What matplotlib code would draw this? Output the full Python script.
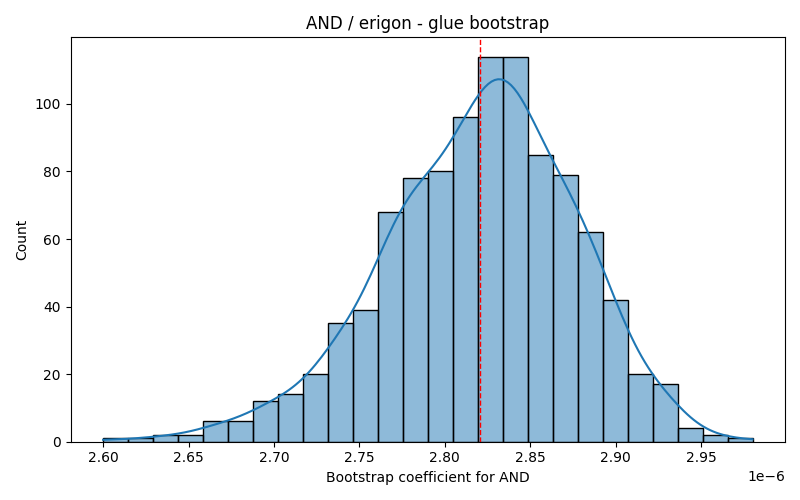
import numpy as np
import matplotlib
matplotlib.use("Agg")
import matplotlib.pyplot as plt
import seaborn as sns

# histogram (1000 bootstrap draws, 26 bins)
counts = [1, 1, 2, 2, 6, 6, 12, 14, 20, 35, 39, 68, 78, 80, 96,
          114, 114, 85, 79, 62, 42, 20, 17, 4, 2, 1]
x_min = 2.6000e-6   # smallest draw = left edge of first bin
x_max = 2.9802e-6   # largest draw = right edge of last bin
point_est = 2.8208e-6  # red dashed reference line

title = "AND / erigon - glue bootstrap"
xlabel = "Bootstrap coefficient for AND"

# rebuild a sample from the bins: one value per count at the bin middle,
# the single draws in the outer bins sit on the range ends
edges = np.linspace(x_min, x_max, len(counts) + 1)
mids = (edges[:-1] + edges[1:]) / 2
draws = np.repeat(mids, counts)
draws[0] = x_min
draws[-1] = x_max

fig, ax = plt.subplots(figsize=(8, 5), dpi=100)
sns.histplot(draws, bins=len(counts), kde=True, ax=ax)
ax.axvline(point_est, color="red", linestyle="--", linewidth=1)
ax.set_title(title)
ax.set_xlabel(xlabel)
ax.set_ylabel("Count")
fig.tight_layout()
fig.savefig("out.png", dpi=100)
